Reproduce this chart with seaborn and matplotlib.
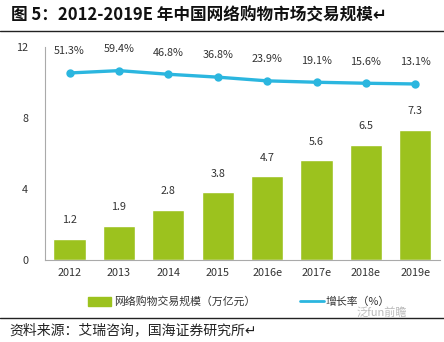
import matplotlib
matplotlib.use("Agg")
import matplotlib.pyplot as plt
import seaborn as sns
import pandas as pd
from matplotlib.patches import Rectangle
from matplotlib.lines import Line2D

years = ["2012", "2013", "2014", "2015", "2016e", "2017e", "2018e", "2019e"]
scale = [1.2, 1.9, 2.8, 3.8, 4.7, 5.6, 6.5, 7.3]
growth = [51.3, 59.4, 46.8, 36.8, 23.9, 19.1, 15.6, 13.1]
yticks = [0, 4, 8, 12]
title = "图 5：2012-2019E 年中国网络购物市场交易规模"
source = "资料来源：艾瑞咨询，国海证券研究所"
legend_bar = "网络购物交易规模（万亿元）"
legend_line = "增长率（%）"

sns.set_theme(style="white")
plt.rcParams['font.family'] = ['Noto Sans CJK SC', 'DejaVu Sans']

df = pd.DataFrame({"year": years, "scale": scale, "growth": growth})

fig = plt.figure(figsize=(4.44, 3.42), dpi=100)
ax = fig.add_axes([0.101, 0.240, 0.890, 0.623])

green = "#9CC21E"
blue = "#2BB6DF"

sns.barplot(data=df, x="year", y="scale", color=green, width=0.65,
            saturation=1, ax=ax)
ax.set_ylim(0, 12)
ax.set_yticks(yticks)
ax.set_xlabel("")
ax.set_ylabel("")
ax.tick_params(axis="both", length=0, labelsize=7.8, colors="#333333")
ax.tick_params(axis="y", pad=12)
ax.tick_params(axis="x", pad=6)
for s in ["top", "right"]:
    ax.spines[s].set_visible(False)
ax.spines["left"].set_color("#aaaaaa")
ax.spines["bottom"].set_color("#aaaaaa")
ax.spines["left"].set_linewidth(0.8)
ax.spines["bottom"].set_linewidth(0.8)
ax.bar_label(ax.containers[0], labels=[f"{v:.1f}" for v in scale],
             padding=10, fontsize=7.8, color="#333333")

ax2 = ax.twinx()
sns.pointplot(data=df, x="year", y="growth", color=blue, markers="o",
              linewidth=2.4, markersize=4.2, ax=ax2)
ax2.set_ylim(-598, 142)
ax2.axis("off")
for i, g in enumerate(growth):
    ax2.annotate(f"{g:.1f}%", (i, g), xytext=(0, 12), textcoords="offset points",
                 ha="center", va="bottom", fontsize=7.8, color="#333333")

# title and rules
fig.text(0.025, 0.955, title + "↵", fontsize=12, fontweight="bold",
         va="center", ha="left", color="#111111")
fig.add_artist(Line2D([0, 1], [0.909, 0.909], color="#222222", lw=1.0))
fig.add_artist(Line2D([0, 1], [0.070, 0.070], color="#222222", lw=1.0))
fig.text(0.022, 0.035, source + "↵", fontsize=10, va="center", ha="left",
         color="#222222")
fig.text(0.86, 0.085, "泛fun前瞻", fontsize=8, va="center", ha="center",
         color="#bbbbbb")

# legend
fig.add_artist(Rectangle((0.198, 0.105), 0.052, 0.028, color=green,
                         transform=fig.transFigure))
fig.text(0.258, 0.119, legend_bar, fontsize=7.8, va="center", ha="left",
         color="#333333")
fig.add_artist(Line2D([0.675, 0.73], [0.119, 0.119], color=blue, lw=2,
                      transform=fig.transFigure))
fig.text(0.733, 0.119, legend_line, fontsize=7.8, va="center", ha="left",
         color="#333333")

fig.savefig("out.png", dpi=100)
